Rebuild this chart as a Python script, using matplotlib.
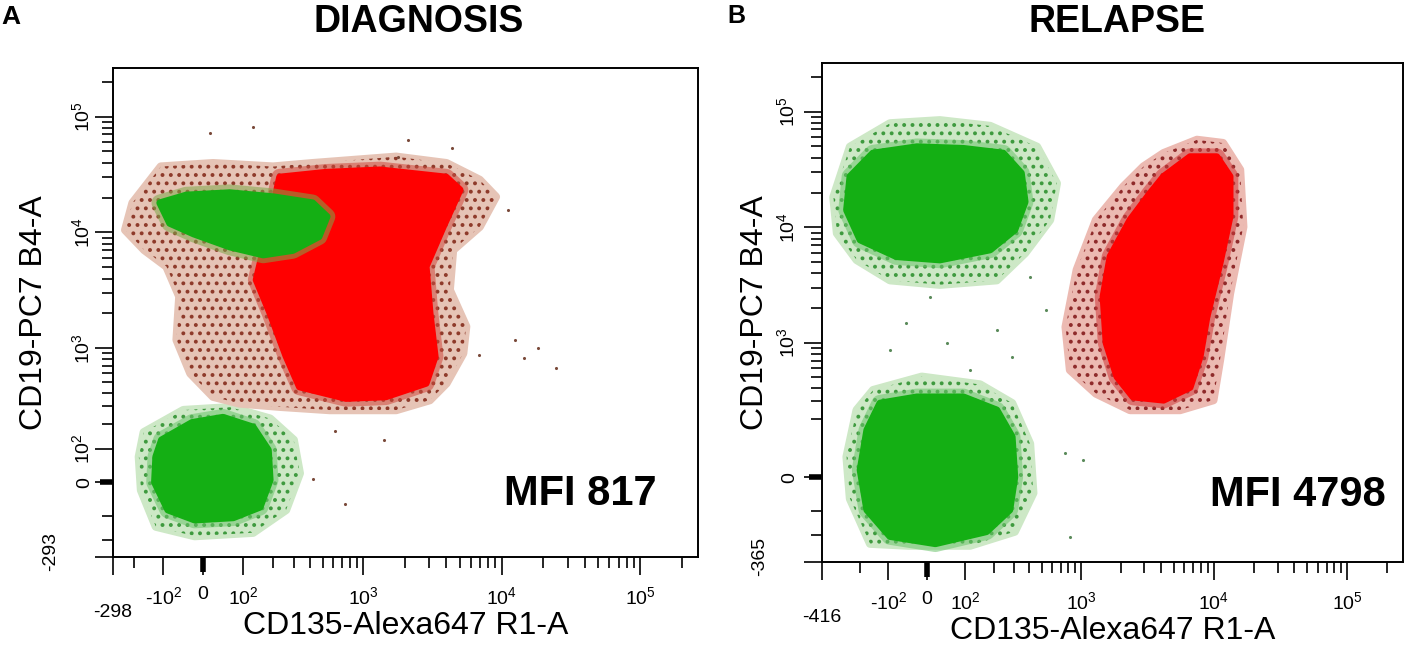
import numpy as np
import matplotlib
matplotlib.use("Agg")
import matplotlib.pyplot as plt

plt.rcParams['font.family'] = ['Liberation Sans', 'DejaVu Sans']
plt.rcParams['mathtext.fontset'] = 'custom'
plt.rcParams['mathtext.rm'] = 'Liberation Sans'
plt.rcParams['hatch.linewidth'] = 1.6

GREEN = '#14af14'
RED = '#ff0000'

# ---- data (fluorescence units, logicle display) ----
# panel A, diagnosis
dx_xlim = (-298, 262144)
dx_ylim = (-293, 262144)

dx_neg_core_x = [-105, -26, 47, 130, 183, 190, 153, 73, -20, -87, -126, -122]
dx_neg_core_y = [132, 208, 235, 186, 96, 6, -72, -107, -115, -81, 0, 74]
dx_neg_halo_x = [-162, -47, 65, 190, 300, 335, 260, 130, -20, -122, -172, -180]
dx_neg_halo_y = [163, 277, 295, 228, 132, 25, -81, -165, -180, -140, -22, 74]

dx_blast_core_x = [230, 530, 1320, 3980, 5010, 3790, 2850, 3040, 3310, 2850,
                   1460, 745, 333, 260, 190, 140, 164, 202]
dx_blast_core_y = [30000, 33000, 34600, 30000, 23300, 11200, 5080, 2010, 845, 490,
                   370, 357, 455, 850, 2000, 3900, 7000, 16700]

dx_b_core_x = [-110, -40, 64, 202, 420, 540, 470, 295, 164, 64, -22, -82]
dx_b_core_y = [18000, 21000, 22000, 20300, 18000, 13700, 9200, 7000, 6400, 7500, 9700, 12000]

dx_halo_x = [-237, -205, -107, 23, 202, 420, 1730, 4000, 6950, 9100, 6950, 4460, 4220,
             5550, 5280, 4000, 3030, 1730, 566, 230, 90, 23, -30, -64, -57, -91, -160]
dx_halo_y = [10500, 18000, 37000, 39600, 37000, 39600, 45000, 39600, 28400, 20300, 11200,
             7050, 3190, 1540, 900, 490, 344, 277, 277, 298, 320, 370, 600, 1180, 2800,
             5080, 7050]

dx_odd_x = [12500, 18300, 14500, 24700, 6880, 1420, 620, 730, 420, 16, 130, 2100, 4400, 11100, 1780]
dx_odd_y = [1180, 1000, 820, 665, 875, 132, 169, -62, 9, 72000, 81000, 63000, 53000, 15600, 45000]

dx_mfi = 817

# panel B, relapse
rl_xlim = (-416, 262144)
rl_ylim = (-365, 262144)

rl_b_core_x = [-245, -150, -24, 95, 244, 345, 370, 305, 186, 32, -77, -199, -262]
rl_b_core_y = [27500, 43700, 49600, 48000, 43700, 29400, 16600, 9500, 6400, 5240, 5600, 7800, 14100]
rl_b_halo_x = [-337, -245, -95, 32, 186, 460, 655, 581, 370, 214, 32, -95, -214, -315]
rl_b_halo_y = [18200, 49600, 79000, 84000, 75000, 49600, 24000, 11600, 6000, 3500, 3200, 3500, 5240, 8900]

rl_neg_core_x = [-126, -24, 95, 214, 290, 305, 277, 172, 21, -95, -172, -199, -172]
rl_neg_core_y = [288, 330, 330, 247, 125, 0, -98, -183, -244, -206, -98, 20, 151]
rl_neg_halo_x = [-149, -12, 148, 290, 405, 430, 305, 115, -45, -160, -245, -262, -214]
rl_neg_halo_y = [382, 505, 430, 288, 100, -45, -183, -255, -255, -244, -62, 58, 247]

rl_blast_core_x = [4190, 6620, 10500, 13200, 13200, 11100, 8850, 7870, 6620, 4190, 2470,
                   1870, 1550, 1470, 1660, 2345, 3316]
rl_blast_core_y = [27500, 40700, 40700, 27500, 12400, 4900, 1680, 760, 405, 308, 330,
                   505, 1000, 2530, 5600, 11600, 19700]
rl_blast_halo_x = [4190, 7460, 11700, 15700, 16600, 13200, 11100, 9900, 5570, 2345, 1300,
                   826, 765, 930, 1300, 2090, 2960]
rl_blast_halo_y = [43700, 56900, 53400, 31400, 10100, 2700, 711, 308, 247, 247, 355,
                   580, 1380, 4300, 11600, 22500, 33500]

rl_odd_x = [-50, 50, 115, 8, 215, 290, -95, 405, 760, 1030, 540, 826]
rl_odd_y = [1500, 1010, 580, 2500, 1300, 750, 870, 3700, 70, 49, 1940, -210]

rl_mfi = 4798

# axis ticks
major_ticks = [-100, 0, 100, 1000, 10000, 100000]
minor_ticks = ([-200] + [k * 100 for k in range(2, 10)] + [k * 1000 for k in range(2, 10)]
               + [k * 10000 for k in range(2, 10)] + [200000])


def fwd(v):
    return np.arcsinh(np.asarray(v, dtype=float) / 140.0)


def inv(t):
    return 140.0 * np.sinh(t)


def dec(p):
    return r'$\mathregular{10^%d}$' % p


def halo(ax, hx, hy, tint, dots):
    ax.fill(hx, hy, facecolor='none', edgecolor=tint, lw=6, joinstyle='round', zorder=2)
    ax.fill(hx, hy, facecolor=tint, edgecolor=dots, lw=0, hatch='..', zorder=2)


def core(ax, cx, cy, col, fringe):
    ax.fill(cx, cy, facecolor='none', edgecolor=fringe, lw=12, joinstyle='round',
            alpha=0.55, zorder=3)
    ax.fill(cx, cy, facecolor=col, edgecolor=col, lw=5, joinstyle='round', zorder=3)


def setup(ax, xlim, ylim, ylabels, lo_x, lo_y, ypad, ylpad):
    ax.set_xscale('function', functions=(fwd, inv))
    ax.set_yscale('function', functions=(fwd, inv))
    ax.set_xlim(*xlim)
    ax.set_ylim(*ylim)
    ax.set_xticks(major_ticks + [xlim[0]])
    ax.set_xticklabels(['-' + dec(2), '0', dec(2), dec(3), dec(4), dec(5), ''])
    ax.set_xticks(minor_ticks, minor=True)
    ax.set_yticks(list(ylabels.keys()) + [ylim[0]])
    ax.set_yticklabels(list(ylabels.values()) + [''], rotation=90, va='center')
    ax.set_yticks(minor_ticks + [-100], minor=True)
    ax.tick_params(which='both', direction='out', width=1.2, color='black',
                   labelsize=14, top=False, right=False)
    ax.tick_params(which='major', length=13)
    ax.tick_params(which='minor', length=8)
    ax.tick_params(axis='x', which='major', pad=8)
    ax.tick_params(axis='y', which='major', pad=ypad)
    for s in ax.spines.values():
        s.set_linewidth(1.4)
    # heavy zero tick
    ax.plot([0, 0], [0, -0.03], transform=ax.get_xaxis_transform(), color='black',
            lw=4, clip_on=False, solid_capstyle='butt', zorder=5)
    ax.plot([0, -0.022], [0, 0], transform=ax.get_yaxis_transform(), color='black',
            lw=4, clip_on=False, solid_capstyle='butt', zorder=5)
    ax.annotate(str(lo_x), xy=(xlim[0], 0), xycoords=ax.get_xaxis_transform(),
                xytext=(0, -40), textcoords='offset points', ha='center', va='center',
                fontsize=14)
    ax.annotate(str(lo_y), xy=(0, ylim[0]), xycoords=ax.get_yaxis_transform(),
                xytext=(-45, 4), textcoords='offset points', ha='center', va='center',
                fontsize=14, rotation=90)
    ax.set_xlabel('CD135-Alexa647 R1-A', fontsize=23, labelpad=2)
    ax.set_ylabel('CD19-PC7 B4-A', fontsize=23, labelpad=ylpad)


fig = plt.figure(figsize=(14.18, 6.57), dpi=100)
axA = fig.add_axes([113 / 1418, 1 - 557 / 657, 585 / 1418, 489 / 657])
axB = fig.add_axes([822 / 1418, 1 - 562 / 657, 581 / 1418, 499 / 657])

# panel A
halo(axA, dx_neg_halo_x, dx_neg_halo_y, '#cde8c6', '#3e9a3e')
core(axA, dx_neg_core_x, dx_neg_core_y, GREEN, '#6cc46c')
halo(axA, dx_halo_x, dx_halo_y, '#e6c4b6', '#8e3a2a')
core(axA, dx_blast_core_x, dx_blast_core_y, RED, '#cf4a3e')
core(axA, dx_b_core_x, dx_b_core_y, GREEN, '#7fa84a')
axA.scatter(dx_odd_x, dx_odd_y, s=5, color='#7a4a3a', lw=0, zorder=4)
axA.text(0.93, 0.128, 'MFI %d' % dx_mfi, transform=axA.transAxes, ha='right',
         va='center', fontsize=30, fontweight='bold')

# panel B
halo(axB, rl_b_halo_x, rl_b_halo_y, '#cde8c6', '#3e9a3e')
core(axB, rl_b_core_x, rl_b_core_y, GREEN, '#6cc46c')
halo(axB, rl_neg_halo_x, rl_neg_halo_y, '#cde8c6', '#3e9a3e')
core(axB, rl_neg_core_x, rl_neg_core_y, GREEN, '#6cc46c')
halo(axB, rl_blast_halo_x, rl_blast_halo_y, '#ecbab2', '#8e2a2a')
core(axB, rl_blast_core_x, rl_blast_core_y, RED, '#cf3a3a')
axB.scatter(rl_odd_x, rl_odd_y, s=5, color='#5a8a5a', lw=0, zorder=4)
axB.text(0.97, 0.134, 'MFI %d' % rl_mfi, transform=axB.transAxes, ha='right',
         va='center', fontsize=30, fontweight='bold')

setup(axA, dx_xlim, dx_ylim, {0: '0', 100: dec(2), 1000: dec(3), 10000: dec(4), 100000: dec(5)},
      -298, -293, 1, 16)
setup(axB, rl_xlim, rl_ylim, {0: '0', 1000: dec(3), 10000: dec(4), 100000: dec(5)},
      -416, -365, 4, 5)

fig.text(419 / 1418, 1 - 22 / 657, 'DIAGNOSIS', ha='center', va='center',
         fontsize=27, fontweight='bold')
fig.text(1117 / 1418, 1 - 22 / 657, 'RELAPSE', ha='center', va='center',
         fontsize=27, fontweight='bold')
fig.text(11 / 1418, 1 - 17 / 657, 'A', ha='center', va='center', fontsize=19, fontweight='bold')
fig.text(736 / 1418, 1 - 16 / 657, 'B', ha='center', va='center', fontsize=18, fontweight='bold')

fig.savefig('out.png', dpi=100, facecolor='white')
